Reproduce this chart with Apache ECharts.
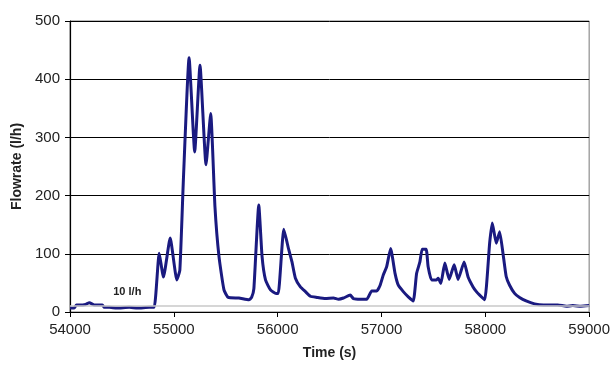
<!DOCTYPE html>
<html>
<head>
<meta charset="utf-8">
<style>html,body{margin:0;padding:0;background:#fff;}#chart{width:613px;height:367px;}</style>
<script src="https://cdn.jsdelivr.net/npm/echarts@6/dist/echarts.min.js"></script>
</head>
<body>
<div id="chart"></div>
<script>
// time (s) and flowrate (l/h)
const times = [
  54000, 54040, 54062, 54091, 54150, 54187, 54235, 54312, 54330, 54379, 54450, 54571, 54650, 54763, 54811,
  54859, 54900, 54965, 55029, 55058, 55092, 55147, 55201, 55252, 55310, 55355, 55396, 55435, 55483, 55524,
  55627, 55723, 55749, 55771, 55818, 55850, 55883, 55931, 55985, 56006, 56059, 56107, 56138, 56171, 56219,
  56267, 56315, 56378, 56459, 56538, 56586, 56634, 56699, 56730, 56797, 56858, 56906, 56954, 56987, 57018,
  57050, 57088, 57131, 57162, 57210, 57258, 57306, 57338, 57370, 57392, 57430, 57449, 57482, 57527, 57546,
  57572, 57610, 57652, 57700, 57738, 57796, 57834, 57882, 57914, 57946, 57994, 58042, 58067, 58106, 58138,
  58170, 58201, 58234, 58282, 58330, 58393, 58474, 58560, 58698, 58780, 58842, 58920, 59000
];
const flows = [
  7, 7, 12, 12, 13, 16, 12, 12, 8, 8, 7, 8, 7, 8, 8,
  101, 60, 127, 55, 72, 227, 437, 275, 424, 253, 341, 181, 95, 38, 25,
  24, 21, 25, 40, 184, 95, 55, 38, 32, 32, 142, 107, 86, 58, 43,
  35, 27, 25, 23, 24, 22, 24, 29, 23, 22, 22, 36, 36, 46, 64,
  78, 109, 66, 46, 35, 26, 19, 66, 86, 108, 108, 78, 55, 55, 58,
  49, 84, 56, 81, 56, 86, 60, 43, 35, 29, 21, 119, 153, 118, 138,
  101, 61, 46, 32, 25, 19, 14, 12, 12, 10, 11, 10, 11
];
const yTicks = [0, 100, 200, 300, 400, 500];
const xTicks = [54000, 55000, 56000, 57000, 58000, 59000];
const threshold = 10;

const chart = echarts.init(document.getElementById('chart'), null, { renderer: 'canvas' });
const font = 'Liberation Sans, Arial, sans-serif';

chart.setOption({
  animation: false,
  backgroundColor: '#fff',
  grid: { left: 70, right: 22, top: 21, bottom: 55, show: true, borderColor: '#777', borderWidth: 1 },
  xAxis: {
    type: 'value',
    min: xTicks[0],
    max: xTicks[xTicks.length - 1],
    interval: 1000,
    name: 'Time (s)',
    nameLocation: 'middle',
    nameGap: 34,
    nameTextStyle: { fontFamily: font, fontSize: 14, fontWeight: 'bold', color: '#222' },
    axisLine: { lineStyle: { color: '#000', width: 1.2 } },
    axisTick: { show: true, length: 5, lineStyle: { color: '#000' } },
    axisLabel: { fontFamily: font, fontSize: 15, color: '#222', margin: 10, formatter: v => String(v) },
    splitLine: { show: false }
  },
  yAxis: {
    type: 'value',
    min: yTicks[0],
    max: yTicks[yTicks.length - 1],
    interval: 100,
    name: 'Flowrate (l/h)',
    nameLocation: 'middle',
    nameGap: 45,
    nameTextStyle: { fontFamily: font, fontSize: 14, fontWeight: 'bold', color: '#222' },
    axisLine: { show: true, lineStyle: { color: '#000', width: 1.2 } },
    axisTick: { show: true, length: 5, lineStyle: { color: '#000' } },
    axisLabel: { fontFamily: font, fontSize: 15, color: '#222', margin: 10 },
    splitLine: { show: true, lineStyle: { color: '#000', width: 1 } }
  },
  series: [{
    type: 'line',
    data: times.map((t, i) => [t, flows[i]]),
    showSymbol: false,
    smooth: 0.15,
    lineStyle: { color: '#1a1a80', width: 3 },
    markLine: {
      silent: true,
      symbol: 'none',
      label: { show: false },
      lineStyle: { color: '#c8c8c8', width: 1.5, type: 'solid' },
      data: [{ yAxis: threshold }]
    },
    markPoint: {
      silent: true,
      symbol: 'circle',
      symbolSize: 0,
      data: [{ coord: [54552, threshold] }],
      label: {
        show: true,
        formatter: '10 l/h',
        position: 'top',
        distance: 9,
        fontFamily: font,
        fontSize: 11,
        fontWeight: 'bold',
        color: '#222'
      }
    }
  }]
});
</script>
</body>
</html>
